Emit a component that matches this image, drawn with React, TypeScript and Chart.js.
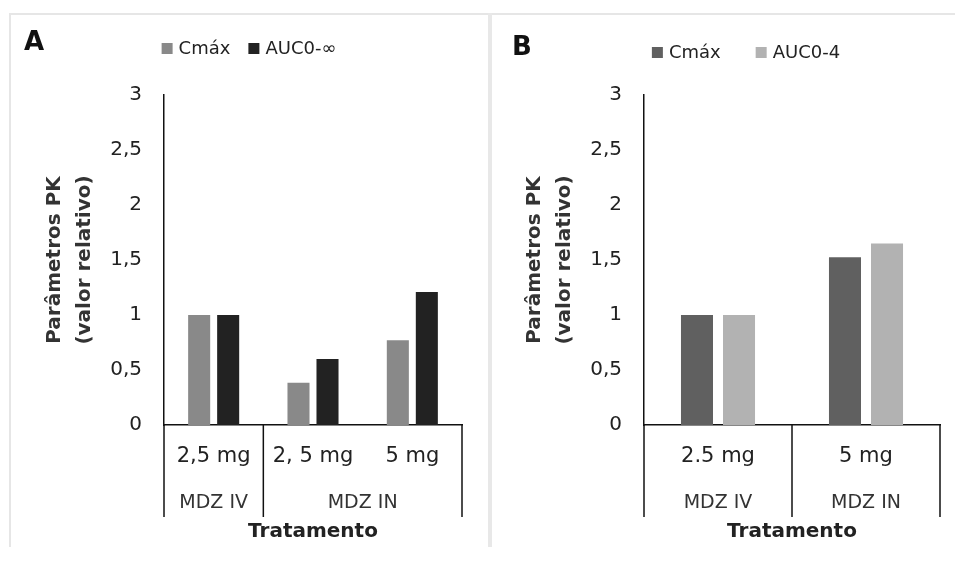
import React, { useEffect, useRef } from "react";
import { Chart, registerables } from "chart.js";

Chart.register(...registerables);

const FONT = "'DejaVu Sans', sans-serif";

// ---- Data ----
const A_CATEGORIES = ["2,5 mg", "2, 5 mg", "5 mg"];
const A_GROUPS = ["MDZ IV", "MDZ IN"];
const A_GROUP_SPANS = [1, 2];
const A_SERIES = ["Cmáx", "AUC0-∞"];
const A_CMAX = [1.0, 0.385, 0.77];
const A_AUC = [1.0, 0.6, 1.21];

const B_CATEGORIES = ["2.5 mg", "5 mg"];
const B_GROUPS = ["MDZ IV", "MDZ IN"];
const B_GROUP_SPANS = [1, 1];
const B_SERIES = ["Cmáx", "AUC0-4"];
const B_CMAX = [1.0, 1.525];
const B_AUC = [1.0, 1.65];

const Y_TICK_LABELS = ["0", "0,5", "1", "1,5", "2", "2,5", "3"];
const Y_TITLE = ["Parâmetros PK", "(valor relativo)"];
const X_TITLE = "Tratamento";

// ---- Decorations plugin: multi-level axis groups, panel label, legend ----
const decorPlugin = {
  id: "decor",
  afterDraw(chart: any, _args: any, opts: any) {
    const ctx = chart.ctx;
    const xs = chart.scales.x;
    const ys = chart.scales.y;
    const n = chart.data.labels.length;
    const step = (xs.right - xs.left) / n;
    const base = ys.getPixelForValue(0);
    ctx.save();

    // group separators
    const bounds = [0];
    let acc = 0;
    opts.spans.forEach((s: number) => {
      acc += s;
      bounds.push(acc);
    });
    ctx.strokeStyle = "#111";
    ctx.lineWidth = 1.5;
    bounds.forEach((bi) => {
      const x = xs.left + bi * step;
      ctx.beginPath();
      ctx.moveTo(x, base);
      ctx.lineTo(x, base + opts.sepLength);
      ctx.stroke();
    });

    // group labels
    ctx.font = `19px ${FONT}`;
    ctx.fillStyle = "#333";
    ctx.textAlign = "center";
    ctx.textBaseline = "middle";
    opts.groups.forEach((g: string, i: number) => {
      const cx = xs.left + ((bounds[i] + bounds[i + 1]) / 2) * step;
      ctx.fillText(g, cx, base + opts.groupY);
    });

    // panel label
    ctx.font = `bold 26px ${FONT}`;
    ctx.fillStyle = "#111";
    ctx.textAlign = "left";
    ctx.fillText(opts.panel, opts.panelX, opts.panelY);

    // legend
    ctx.font = `18px ${FONT}`;
    const box = 11;
    const items = chart.data.datasets.map((d: any) => ({
      label: d.label,
      color: d.backgroundColor,
      w: ctx.measureText(d.label).width,
    }));
    const total =
      items.reduce((s: number, it: any) => s + box + 6 + it.w, 0) +
      opts.legendGap * (items.length - 1);
    let x = opts.legendCenter - total / 2;
    items.forEach((it: any) => {
      ctx.fillStyle = it.color;
      ctx.fillRect(x, opts.legendY - box / 2, box, box);
      ctx.fillStyle = "#222";
      ctx.textAlign = "left";
      ctx.fillText(it.label, x + box + 6, opts.legendY + 1);
      x += box + 6 + it.w + opts.legendGap;
    });

    ctx.restore();
  },
};

function makeConfig(
  categories: string[],
  series: string[],
  values: number[][],
  colors: string[],
  catPct: number,
  barPct: number,
  yWidth: number,
  padRight: number,
  yTitlePad: number,
  decor: any
) {
  return {
    type: "bar" as const,
    data: {
      labels: categories,
      datasets: series.map((s, i) => ({
        label: s,
        data: values[i],
        backgroundColor: colors[i],
        borderWidth: 0,
        categoryPercentage: catPct,
        barPercentage: barPct,
      })),
    },
    plugins: [decorPlugin],
    options: {
      responsive: false,
      animation: false as const,
      layout: { padding: { left: 0, right: padRight, top: 81, bottom: 0 } },
      plugins: {
        legend: { display: false },
        tooltip: { enabled: false },
        decor,
      },
      scales: {
        x: {
          grid: { display: false, drawTicks: false },
          border: { display: true, color: "#111", width: 1.5 },
          ticks: {
            font: { family: FONT, size: 21 },
            color: "#222",
            padding: 19,
            maxRotation: 0,
            autoSkip: false,
          },
          title: {
            display: true,
            text: X_TITLE,
            font: { family: FONT, size: 20, weight: "bold" },
            color: "#222",
            padding: { top: 0, bottom: 3 },
          },
          afterFit: (s: any) => {
            s.height = 122;
          },
        },
        y: {
          min: 0,
          max: 3,
          grid: { display: false, drawTicks: false },
          border: { display: true, color: "#111", width: 1.5 },
          ticks: {
            stepSize: 0.5,
            font: { family: FONT, size: 20 },
            color: "#222",
            padding: 22,
            callback: (_v: any, i: number) => Y_TICK_LABELS[i],
          },
          title: {
            display: true,
            text: Y_TITLE,
            font: { family: FONT, size: 20, weight: "bold", lineHeight: 1.5 },
            color: "#333",
            padding: { top: yTitlePad, bottom: 0 },
          },
          afterFit: (s: any) => {
            s.width = yWidth;
          },
        },
      },
    },
  };
}

export default function App() {
  const refA = useRef<HTMLCanvasElement>(null);
  const refB = useRef<HTMLCanvasElement>(null);

  useEffect(() => {
    const a = new Chart(
      refA.current as HTMLCanvasElement,
      makeConfig(
        A_CATEGORIES,
        A_SERIES,
        [A_CMAX, A_AUC],
        ["#898989", "#222222"],
        0.584,
        0.76,
        154,
        26,
        30,
        {
          spans: A_GROUP_SPANS,
          groups: A_GROUPS,
          sepLength: 92,
          groupY: 78,
          panel: "A",
          panelX: 14,
          panelY: 29,
          legendCenter: 239,
          legendY: 34.5,
          legendGap: 18,
        }
      ) as any
    );
    const b = new Chart(
      refB.current as HTMLCanvasElement,
      makeConfig(
        B_CATEGORIES,
        B_SERIES,
        [B_CMAX, B_AUC],
        ["#606060", "#b2b2b2"],
        0.568,
        0.762,
        152,
        15,
        28,
        {
          spans: B_GROUP_SPANS,
          groups: B_GROUPS,
          sepLength: 92,
          groupY: 78,
          panel: "B",
          panelX: 20,
          panelY: 34,
          legendCenter: 254,
          legendY: 38.5,
          legendGap: 35,
        }
      ) as any
    );
    return () => {
      a.destroy();
      b.destroy();
    };
  }, []);

  return (
    <div
      style={{
        position: "fixed",
        left: 0,
        top: 0,
        width: 955,
        height: 577,
        background: "#fff",
        overflow: "hidden",
      }}
    >
      <canvas
        ref={refA}
        width={478}
        height={533}
        style={{ position: "absolute", left: 10, top: 14, display: "block" }}
      />
      <canvas
        ref={refB}
        width={463}
        height={533}
        style={{ position: "absolute", left: 492, top: 14, display: "block" }}
      />
      <div style={{ position: "absolute", left: 9, top: 13, width: 946, height: 2, background: "#e6e6e6" }} />
      <div style={{ position: "absolute", left: 9, top: 13, width: 2, height: 534, background: "#e6e6e6" }} />
      <div style={{ position: "absolute", left: 488, top: 13, width: 4, height: 534, background: "#e8e8e8" }} />
    </div>
  );
}
